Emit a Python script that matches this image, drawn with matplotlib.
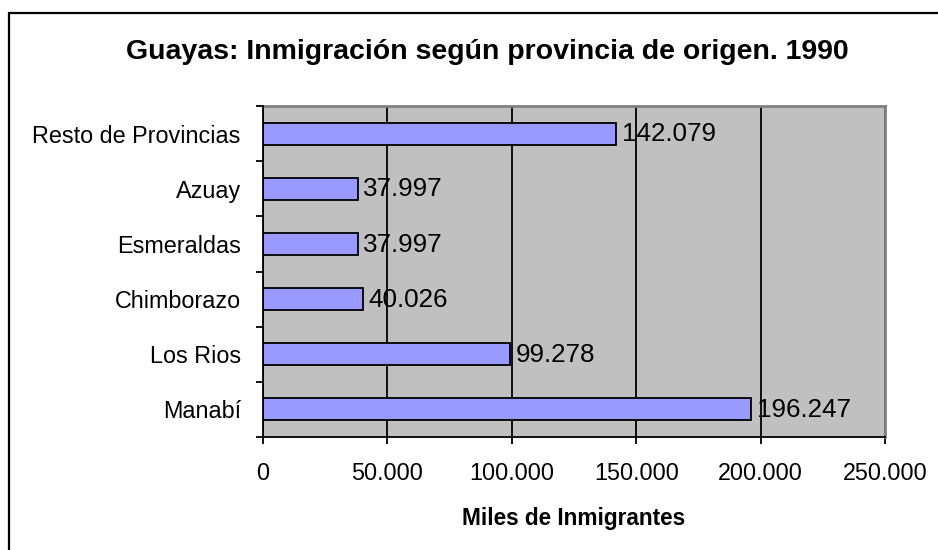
import matplotlib
matplotlib.use("Agg")
import matplotlib.pyplot as plt
from matplotlib.patches import Rectangle

plt.rcParams['font.family'] = ['Liberation Sans', 'DejaVu Sans']

categories = ["Manabí", "Los Rios", "Chimborazo", "Esmeraldas", "Azuay", "Resto de Provincias"]
values = [196247, 99278, 40026, 37997, 37997, 142079]
xticks = [0, 50000, 100000, 150000, 200000, 250000]
xtick_labels = ["0", "50.000", "100.000", "150.000", "200.000", "250.000"]
title = "Guayas: Inmigración según provincia de origen. 1990"
xlabel = "Miles de Inmigrantes"

W, H = 938, 550
fig = plt.figure(figsize=(W / 100, H / 100), dpi=100)
fig.patch.set_facecolor("white")

# outer chart border
fig.add_artist(Rectangle((9 / W, -0.1), 1.2, 1 - 13 / H + 0.1, transform=fig.transFigure,
                         fill=False, edgecolor="black", linewidth=1.6, zorder=0))

left, right, top, bottom = 263, 885, 106, 437
ax = fig.add_axes([left / W, 1 - bottom / H, (right - left) / W, (bottom - top) / H])
ax.set_facecolor("#C0C0C0")

ypos = list(range(len(categories)))
ax.barh(ypos, values, height=0.4, color="#9999FF", edgecolor="black", linewidth=1.3, zorder=3)

for y, v in zip(ypos, values):
    lab = f"{v:,}".replace(",", ".")
    ax.annotate(lab, (v, y), xytext=(4, -0.5), textcoords="offset points",
                ha="left", va="center", fontsize=18.7, color="black", zorder=4)

ax.set_xlim(0, 250000)
ax.set_ylim(-0.5, len(categories) - 0.5)

ax.set_xticks(xticks)
ax.set_xticklabels(xtick_labels, fontsize=16.8)
ax.tick_params(axis="x", direction="out", length=5, width=1.3, pad=13, color="black")
ax.xaxis.grid(True, color="black", linewidth=1.3, zorder=1)
ax.set_axisbelow(True)

ax.set_yticks(ypos)
ax.set_yticklabels(categories, fontsize=16.8)
ax.set_yticks([i - 0.5 for i in range(len(categories) + 1)], minor=True)
ax.tick_params(axis="y", which="major", length=0, pad=16)
ax.tick_params(axis="y", which="minor", direction="out", length=5, width=1.3, color="black")

for s in ["top", "right"]:
    ax.spines[s].set_color("#808080")
    ax.spines[s].set_linewidth(2)
for s in ["left", "bottom"]:
    ax.spines[s].set_color("black")
    ax.spines[s].set_linewidth(1.3)
ax.spines["left"].set_zorder(5)
ax.spines["bottom"].set_zorder(5)

fig.text(487 / W, 1 - 52 / H, title, ha="center", va="center", fontsize=20.5, fontweight="bold")
fig.text(574 / W, 1 - 518 / H, xlabel, ha="center", va="center", fontsize=16.3, fontweight="bold")

fig.savefig("out.png", dpi=100)
